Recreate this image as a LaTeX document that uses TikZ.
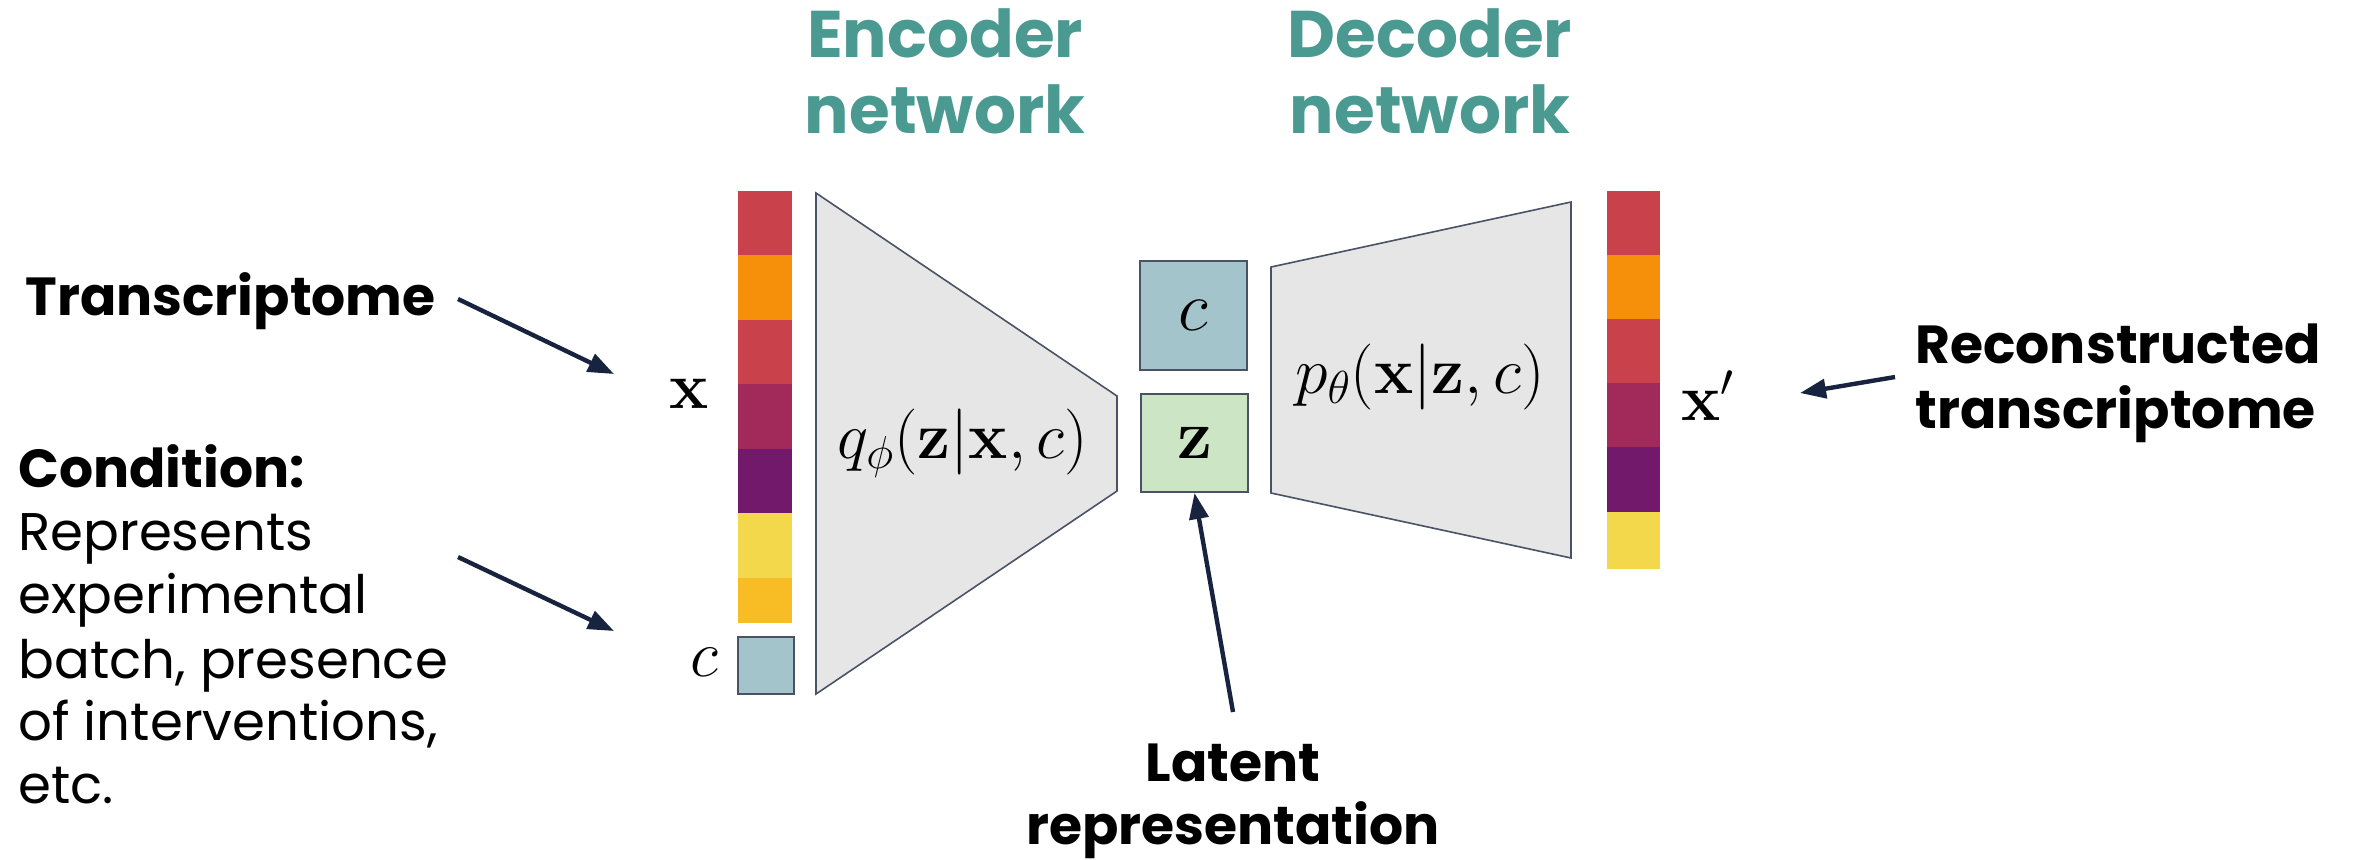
\RequirePackage{fix-cm}
\documentclass[tikz,border=0pt]{standalone}
\usepackage[no-math]{fontspec}
\newfontfamily\pop{Poppins}
\usetikzlibrary{arrows.meta}
\definecolor{barred}{HTML}{C9414B}
\definecolor{barorange}{HTML}{F6900B}
\definecolor{barmag}{HTML}{A22A5B}
\definecolor{barpurp}{HTML}{72196C}
\definecolor{baryel}{HTML}{F4D84C}
\definecolor{bargold}{HTML}{F8BD24}
\definecolor{cblue}{HTML}{A3C4CA}
\definecolor{zgreen}{HTML}{CCE5C4}
\definecolor{netgray}{HTML}{E6E6E6}
\definecolor{edgegray}{HTML}{4A5266}
\definecolor{titleteal}{HTML}{4B9A92}
\definecolor{navy}{HTML}{18233F}
\begin{document}
\begin{tikzpicture}[x=0.5pt,y=-0.5pt,
  net/.style={fill=netgray,draw=edgegray,line width=0.8pt,line join=miter},
  vecbox/.style={draw=edgegray,line width=1pt,inner sep=0pt},
  ptr/.style={draw=navy,line width=2.2pt,-{Triangle[length=13pt,width=9.5pt]}},
  mathlbl/.style={font=\fontsize{33}{40}\selectfont,inner sep=0pt},
  lbl/.style={font=\pop\bfseries\fontsize{26.8}{32}\selectfont,inner sep=0pt},
  bodytxt/.style={font=\pop\fontsize{26.5}{32}\selectfont,inner sep=0pt,anchor=base west},
  titletxt/.style={font=\pop\bfseries\fontsize{33}{40}\selectfont,text=titleteal,inner sep=0pt,anchor=base},
]
\useasboundingbox (0,0) rectangle (2354,859);

% titles
\node[titletxt] (enc1) at (945,57) {Encoder};
\node[titletxt] (enc2) at (945,133) {network};
\node[titletxt] (dec1) at (1430,57) {Decoder};
\node[titletxt] (dec2) at (1430,133) {network};

% input bar
\foreach \c/\a/\b in {barred/191/255, barorange/255/320, barred/320/384, barmag/384/449, barpurp/449/513, baryel/513/578, bargold/578/623}
  \fill[\c] (738,\a) rectangle (792,\b);
\node[vecbox,fill=cblue,minimum width=28pt,minimum height=28.5pt] (cin) at (766,665.5) {};

% output bar
\foreach \c/\a/\b in {barred/191/255, barorange/255/319, barred/319/383, barmag/383/447, barpurp/447/512, baryel/512/569}
  \fill[\c] (1607,\a) rectangle (1660,\b);

% encoder / decoder
\draw[net] (816,193) -- (1117,396) -- (1117,491) -- (816,694) -- cycle;
\draw[net] (1271,267) -- (1571,202) -- (1571,558) -- (1271,493) -- cycle;
\node[mathlbl] (qform) at (963,443) {$q_\phi(\mathbf{z}|\mathbf{x},c)$};
\node[mathlbl] (pform) at (1420,377) {$p_\theta(\mathbf{x}|\mathbf{z},c)$};

% latent boxes
\node[vecbox,fill=cblue,minimum width=53.5pt,minimum height=54.5pt,font=\fontsize{35}{40}\selectfont] (cmid) at (1193.5,315.5) {$c$};
\node[vecbox,fill=zgreen,minimum width=53.5pt,minimum height=49pt,font=\fontsize{35}{40}\selectfont] (zbox) at (1194.5,443) {$\mathbf{z}$};

% math labels
\node[mathlbl] (xin) at (689,394) {$\mathbf{x}$};
\node[mathlbl] (clab) at (704,662) {$c$};
\node[mathlbl,anchor=base west] (xout) at (1681,420) {$\mathbf{x}'$};

% text labels
\node[lbl,anchor=base west] (trans) at (25,315) {Transcriptome};
\node[lbl,anchor=base west] (cond) at (18,487) {Condition:};
\node[bodytxt] (c1) at (18,550) {Represents};
\node[bodytxt] (c2) at (18,613) {experimental};
\node[bodytxt] (c3) at (18,678) {batch, presence};
\node[bodytxt] (c4) at (18,740) {of interventions,};
\node[bodytxt] (c5) at (18,803) {etc.};
\node[lbl,anchor=base west] (rec1) at (1915,363) {Reconstructed};
\node[lbl,anchor=base west] (rec2) at (1915,428) {transcriptome};
\node[lbl,anchor=base] (lat1) at (1233,781) {Latent};
\node[lbl,anchor=base] (lat2) at (1233,844) {representation};

% arrows
\coordinate (tA) at (458,299); \coordinate (tB) at (614,374);
\coordinate (cA) at (458,557); \coordinate (cB) at (614,631);
\coordinate (rA) at (1895,377); \coordinate (rB) at (1800,393);
\coordinate (lA) at (1233,712);
\draw[ptr] (tA) -- (tB);
\draw[ptr] (cA) -- (cB);
\draw[ptr] (rA) -- (rB);
\draw[ptr] (lA) -- (zbox.south);
\end{tikzpicture}
\end{document}
